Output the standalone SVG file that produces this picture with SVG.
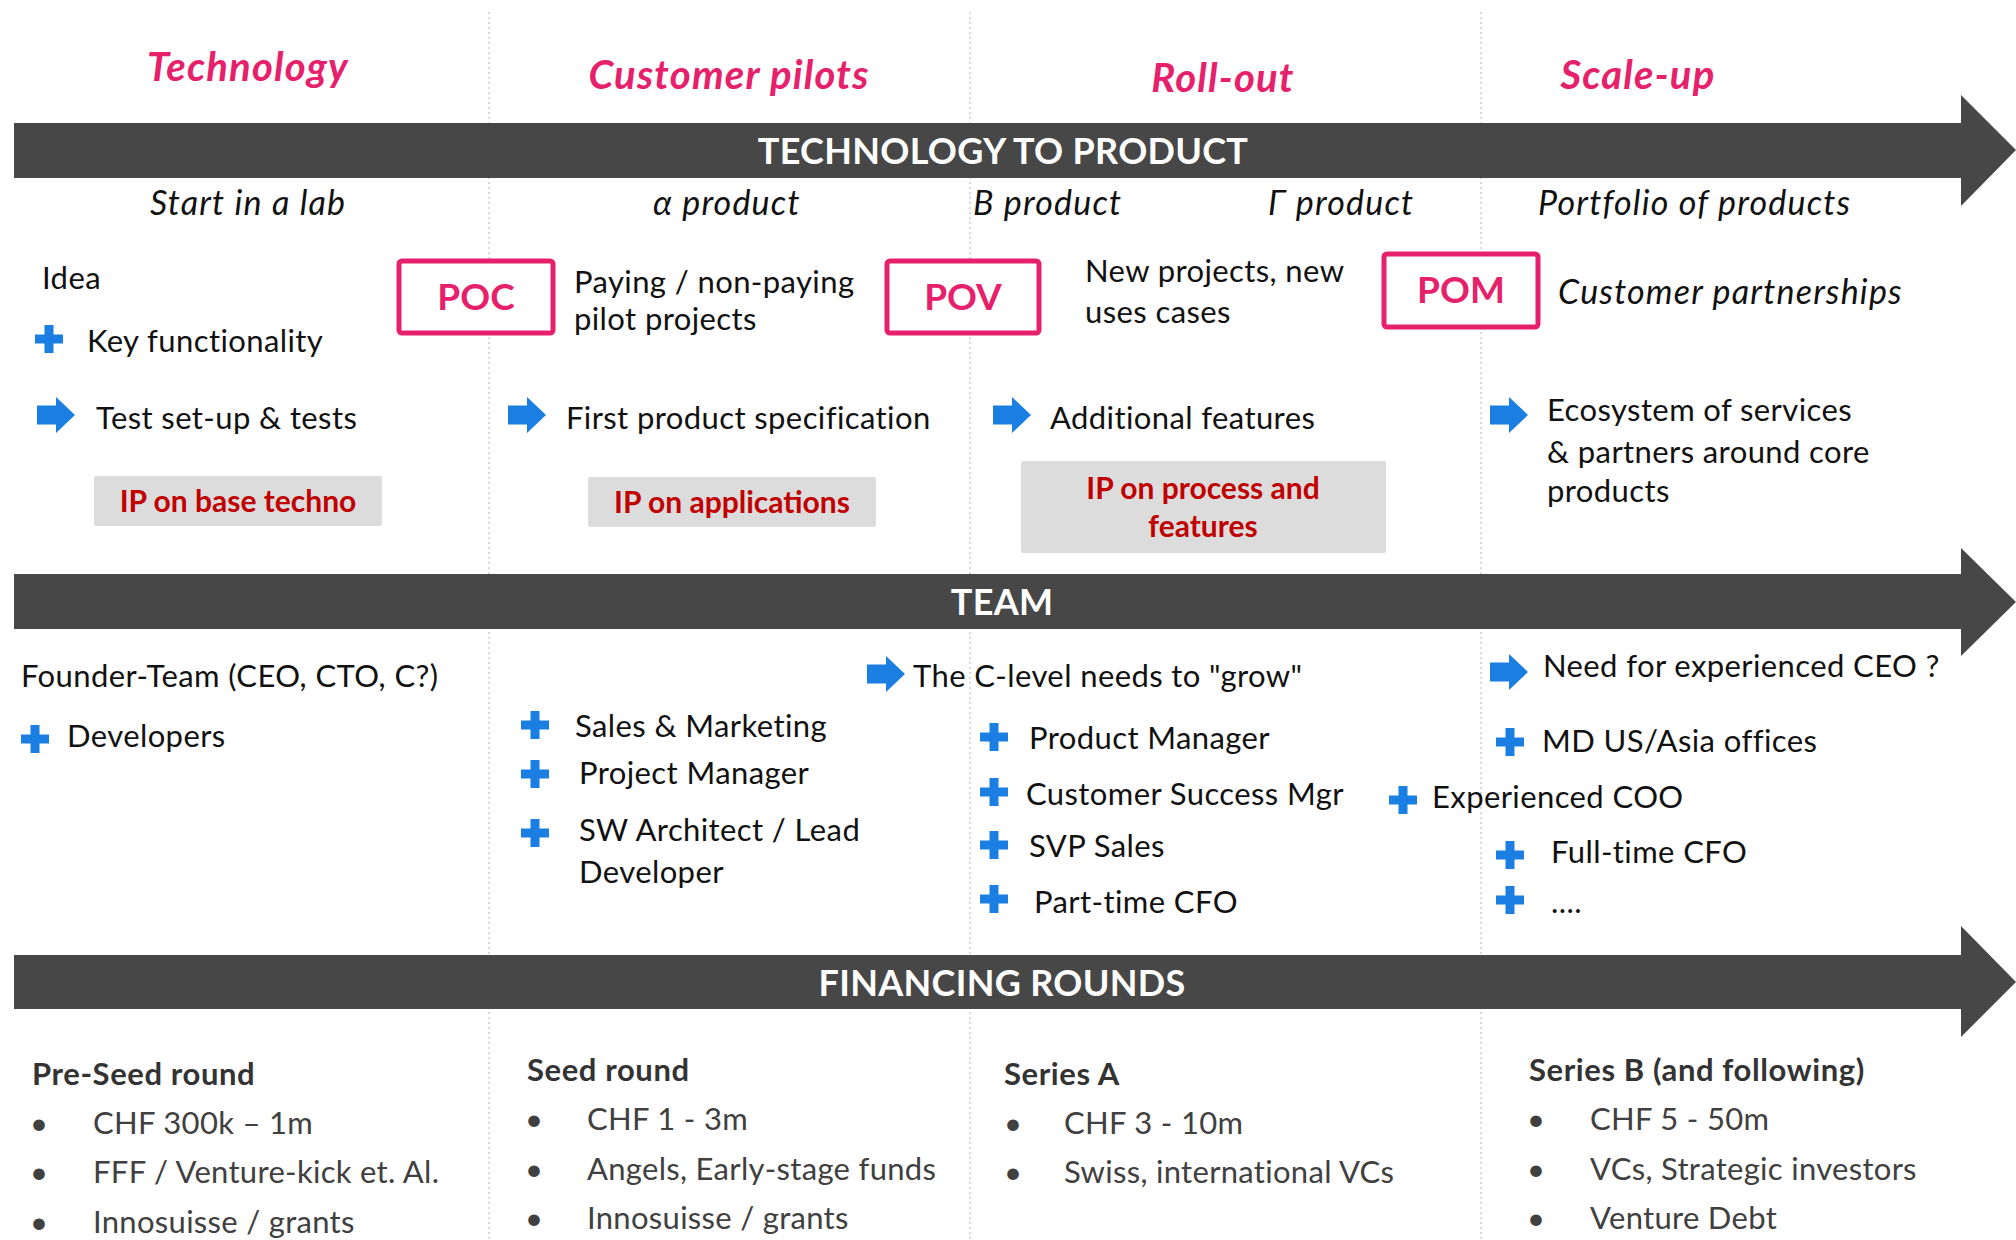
<svg xmlns="http://www.w3.org/2000/svg" width="2016" height="1240" viewBox="0 0 2016 1240">
<style>
text{font-family:Lato,"Open Sans","Liberation Sans",sans-serif;}
.t{font-size:31px;letter-spacing:0.4px;fill:#111;}
.i{font-size:34px;letter-spacing:1.2px;font-style:italic;fill:#111;}
.ph{font-size:40px;letter-spacing:1.2px;font-weight:bold;font-style:italic;fill:#E6206A;text-anchor:middle;}
.band{font-size:36px;letter-spacing:0.3px;font-weight:bold;fill:#fff;text-anchor:middle;}
.bx{font-size:37px;font-weight:bold;fill:#E6206A;text-anchor:middle;}
.ip{font-size:30px;font-weight:bold;fill:#C00000;text-anchor:middle;}
.fh{font-size:31px;letter-spacing:0.6px;font-weight:bold;fill:#333;}
.fb{font-size:31px;letter-spacing:0.3px;fill:#404040;}
.div{stroke:#cdcdcd;stroke-width:1.5;stroke-dasharray:2 3;fill:none;}
.bandshape{fill:#474747;}
.pbox{fill:#fff;stroke:#E6206A;stroke-width:5;}
.gbox{fill:#DCDCDC;}
.ic{fill:#1B7EE2;}
</style>
<defs>
<g id="plus"><rect class="ic" x="-14" y="-4.5" width="28" height="9"/><rect class="ic" x="-4.5" y="-14" width="9" height="28"/></g>
<path id="arr" class="ic" d="M0,-9.5 H19 V-18 L38,0 L19,18 V9.5 H0 Z"/>
</defs>

<g id="dividers">
<line class="div" x1="489" y1="12" x2="489" y2="1240"/>
<line class="div" x1="970" y1="12" x2="970" y2="1240"/>
<line class="div" x1="1481" y1="12" x2="1481" y2="1240"/>
</g>

<g id="phases">
<text class="ph" x="248" y="81">Technology</text>
<text class="ph" x="729" y="89">Customer pilots</text>
<text class="ph" x="1223" y="92">Roll-out</text>
<text class="ph" x="1638" y="89">Scale-up</text>
</g>

<g id="band-tech">
<path class="bandshape" d="M14,123 H1961 V95 L2016,150 L1961,206 V178 H14 Z"/>
<text class="band" x="1003" y="164">TECHNOLOGY TO PRODUCT</text>
</g>
<g id="band-team">
<path class="bandshape" d="M14,574 H1961 V548 L2016,602 L1961,656 V629 H14 Z"/>
<text class="band" x="1002" y="615">TEAM</text>
</g>
<g id="band-fin">
<path class="bandshape" d="M14,955 H1961 V926 L2016,982 L1961,1037 V1009 H14 Z"/>
<text class="band" x="1002" y="996">FINANCING ROUNDS</text>
</g>

<g id="stages">
<text class="i" x="150" y="215">Start in a lab</text>
<text class="i" x="653" y="215">α product</text>
<text class="i" x="973" y="215">B product</text>
<text class="i" x="1268" y="215">Γ product</text>
<text class="i" x="1538" y="215">Portfolio of products</text>
</g>

<g id="poc"><rect class="pbox" x="399" y="261" width="154" height="72" rx="3"/><text class="bx" x="476" y="310">POC</text></g>
<g id="pov"><rect class="pbox" x="887" y="261" width="152" height="72" rx="3"/><text class="bx" x="963" y="310">POV</text></g>
<g id="pom"><rect class="pbox" x="1384" y="254" width="154" height="73" rx="3"/><text class="bx" x="1461" y="303">POM</text></g>

<g id="tech-col1">
<text class="t" x="42" y="289">Idea</text>
<use href="#plus" x="49" y="339"/>
<text class="t" x="87" y="352">Key functionality</text>
<use href="#arr" x="37" y="415"/>
<text class="t" x="96" y="429">Test set-up &amp; tests</text>
<rect class="gbox" x="94" y="476" width="288" height="50" rx="2"/>
<text class="ip" x="238" y="512">IP on base techno</text>
</g>
<g id="tech-col2">
<text class="t" x="574" y="293">Paying / non-paying</text>
<text class="t" x="574" y="330">pilot projects</text>
<use href="#arr" x="508" y="415"/>
<text class="t" x="566" y="429">First product specification</text>
<rect class="gbox" x="588" y="477" width="288" height="50" rx="2"/>
<text class="ip" x="732" y="513">IP on applications</text>
</g>
<g id="tech-col3">
<text class="t" x="1085" y="282">New projects, new</text>
<text class="t" x="1085" y="323">uses cases</text>
<use href="#arr" x="993" y="415"/>
<text class="t" x="1050" y="429">Additional features</text>
<rect class="gbox" x="1021" y="461" width="365" height="92" rx="2"/>
<text class="ip" x="1203" y="499">IP on process and</text>
<text class="ip" x="1203" y="537">features</text>
</g>
<g id="tech-col4">
<text class="i" x="1558" y="304">Customer partnerships</text>
<use href="#arr" x="1490" y="415"/>
<text class="t" x="1547" y="421">Ecosystem of services</text>
<text class="t" x="1547" y="463">&amp; partners around core</text>
<text class="t" x="1547" y="502">products</text>
</g>

<g id="team-col1">
<text class="t" x="21" y="687">Founder-Team (CEO, CTO, C?)</text>
<use href="#plus" x="35" y="739"/>
<text class="t" x="67" y="747">Developers</text>
</g>
<g id="team-col2">
<use href="#plus" x="535" y="725"/>
<text class="t" x="575" y="737">Sales &amp; Marketing</text>
<use href="#plus" x="535" y="774"/>
<text class="t" x="579" y="784">Project Manager</text>
<use href="#plus" x="535" y="833"/>
<text class="t" x="579" y="841">SW Architect / Lead</text>
<text class="t" x="579" y="883">Developer</text>
</g>
<g id="team-col3">
<use href="#arr" x="867" y="674"/>
<text class="t" x="913" y="687">The C-level needs to "grow"</text>
<use href="#plus" x="994" y="737"/>
<text class="t" x="1029" y="749">Product Manager</text>
<use href="#plus" x="994" y="792"/>
<text class="t" x="1026" y="805">Customer Success Mgr</text>
<use href="#plus" x="994" y="845"/>
<text class="t" x="1029" y="857">SVP Sales</text>
<use href="#plus" x="994" y="899"/>
<text class="t" x="1034" y="913">Part-time CFO</text>
</g>
<g id="team-col4">
<use href="#arr" x="1490" y="672"/>
<text class="t" x="1543" y="677">Need for experienced CEO ?</text>
<use href="#plus" x="1510" y="742"/>
<text class="t" x="1542" y="752">MD US/Asia offices</text>
<use href="#plus" x="1403" y="800"/>
<text class="t" x="1432" y="808">Experienced COO</text>
<use href="#plus" x="1510" y="855"/>
<text class="t" x="1551" y="863">Full-time CFO</text>
<use href="#plus" x="1510" y="900"/>
<text class="t" x="1551" y="913">....</text>
</g>

<g id="fin-col1">
<text class="fh" x="32" y="1085">Pre-Seed round</text>
<text class="fb" x="30" y="1134">•</text><text class="fb" x="93" y="1134">CHF 300k – 1m</text>
<text class="fb" x="30" y="1183">•</text><text class="fb" x="93" y="1183">FFF / Venture-kick et. Al.</text>
<text class="fb" x="30" y="1233">•</text><text class="fb" x="93" y="1233">Innosuisse / grants</text>
</g>
<g id="fin-col2">
<text class="fh" x="527" y="1081">Seed round</text>
<text class="fb" x="525" y="1130">•</text><text class="fb" x="587" y="1130">CHF 1 - 3m</text>
<text class="fb" x="525" y="1180">•</text><text class="fb" x="587" y="1180">Angels, Early-stage funds</text>
<text class="fb" x="525" y="1229">•</text><text class="fb" x="587" y="1229">Innosuisse / grants</text>
</g>
<g id="fin-col3">
<text class="fh" x="1004" y="1085">Series A</text>
<text class="fb" x="1004" y="1134">•</text><text class="fb" x="1064" y="1134">CHF 3 - 10m</text>
<text class="fb" x="1004" y="1183">•</text><text class="fb" x="1064" y="1183">Swiss, international VCs</text>
</g>
<g id="fin-col4">
<text class="fh" x="1529" y="1081">Series B (and following)</text>
<text class="fb" x="1527" y="1130">•</text><text class="fb" x="1590" y="1130">CHF 5 - 50m</text>
<text class="fb" x="1527" y="1180">•</text><text class="fb" x="1590" y="1180">VCs, Strategic investors</text>
<text class="fb" x="1527" y="1229">•</text><text class="fb" x="1590" y="1229">Venture Debt</text>
</g>
</svg>
